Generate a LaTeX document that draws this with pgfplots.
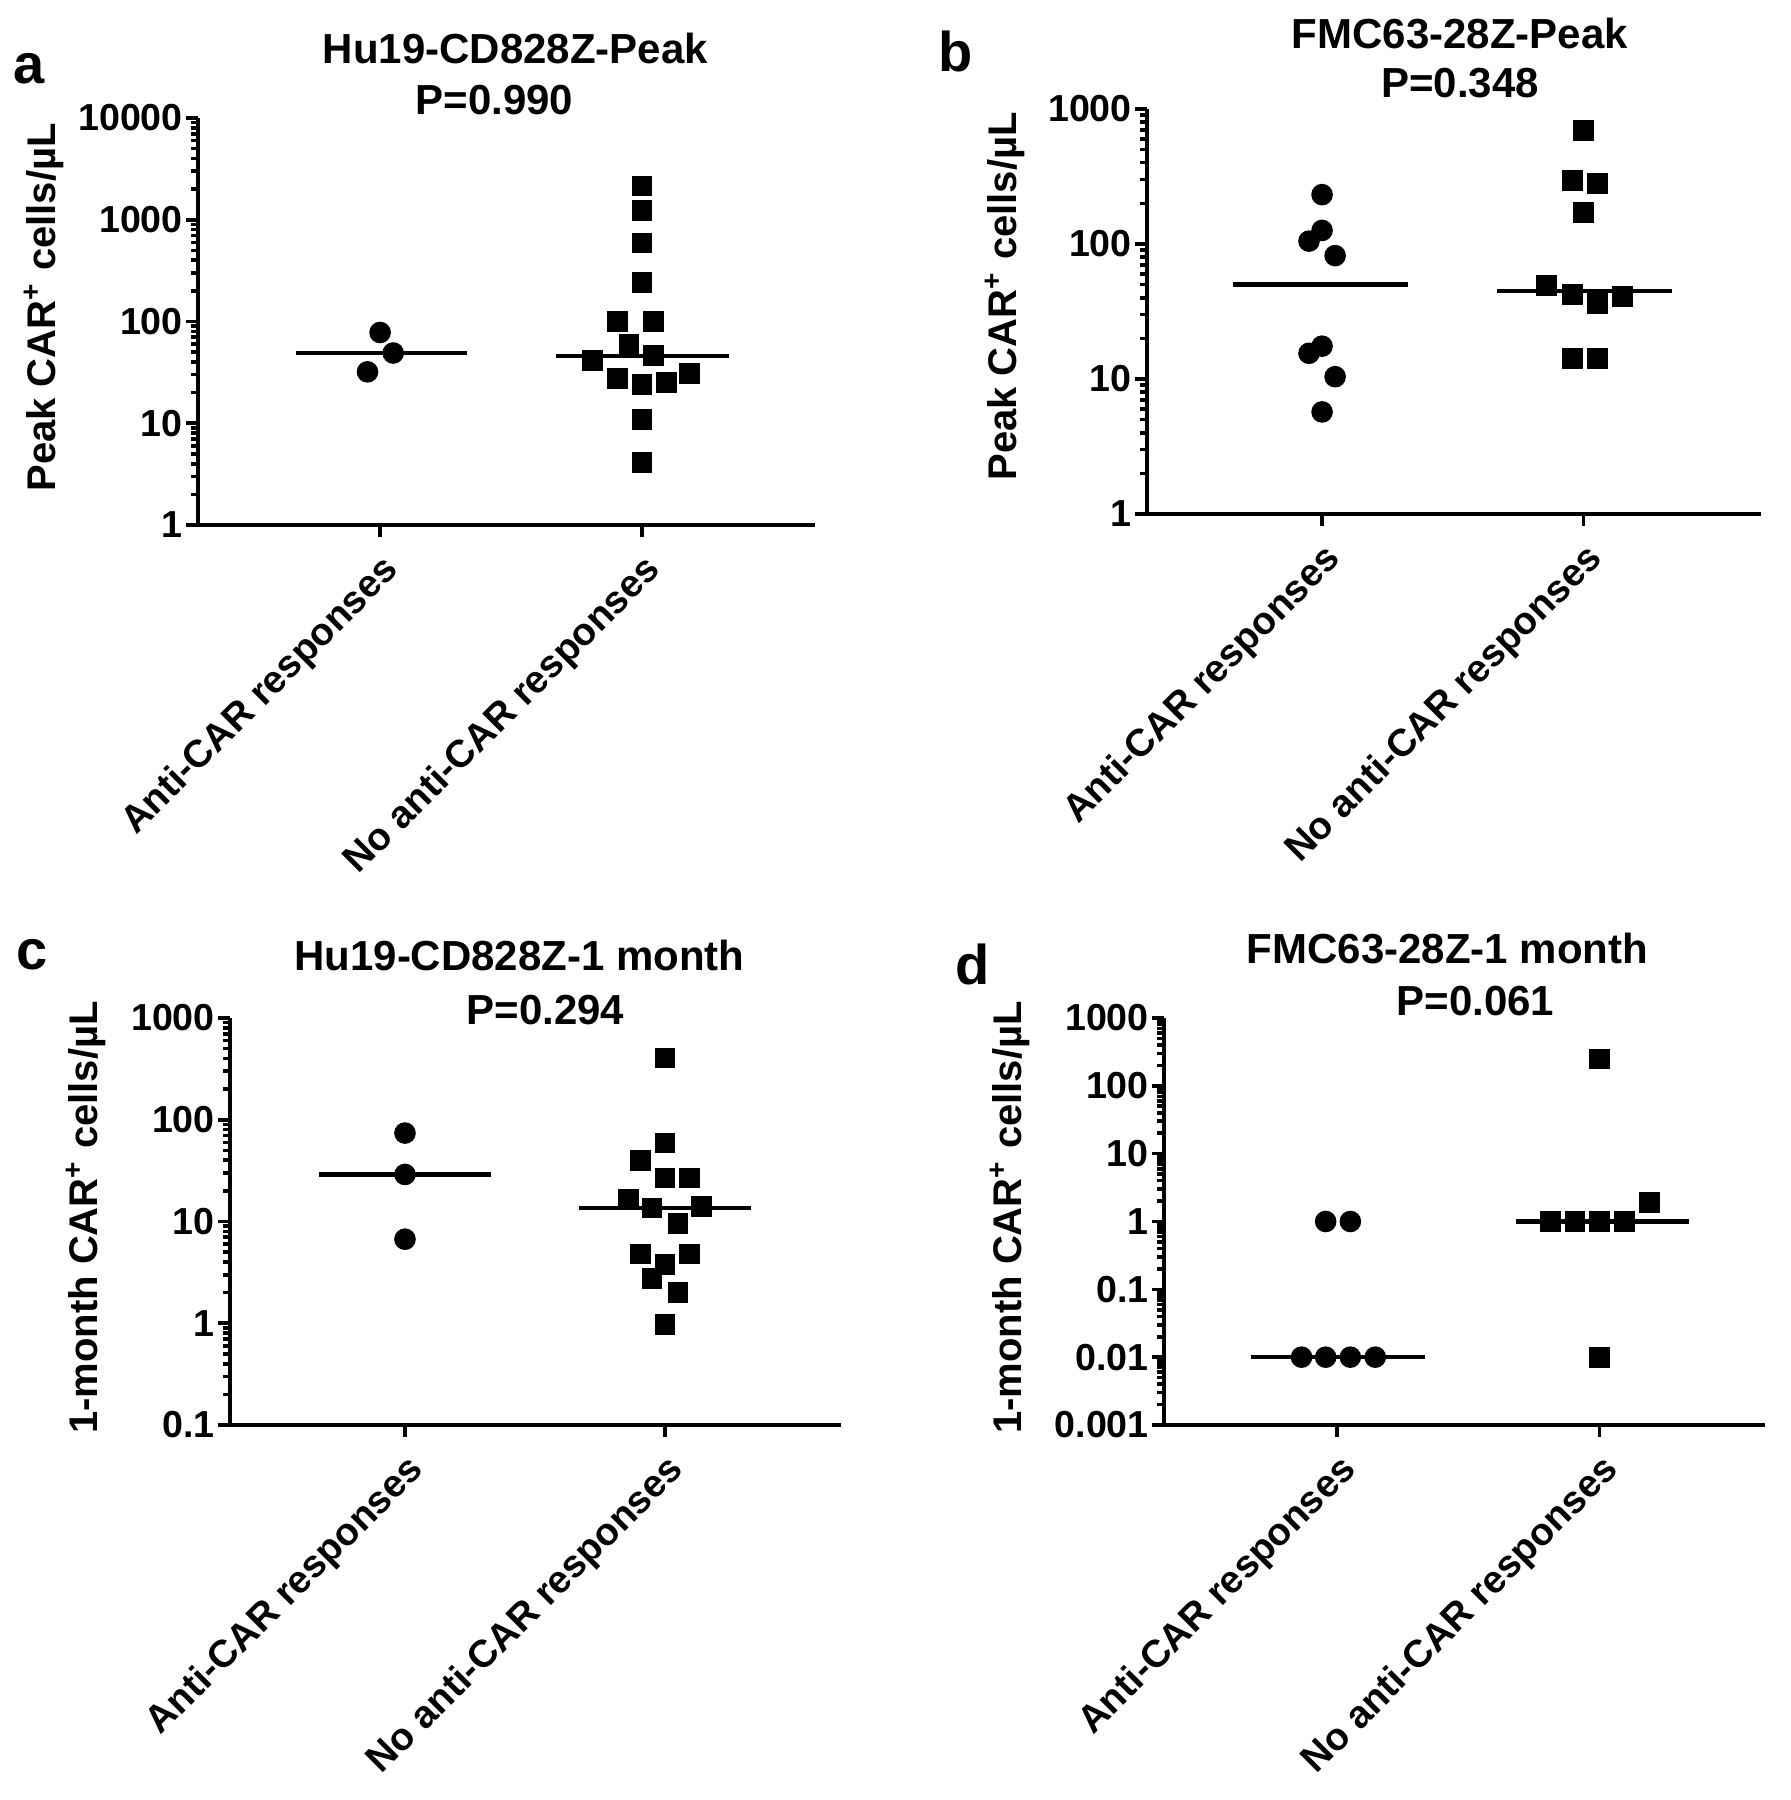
\documentclass[border=0pt]{standalone}
\usepackage{fontspec}
\setmainfont{Liberation Sans}
\usepackage{pgfplots}
\pgfplotsset{compat=1.18}

\pgfplotsset{
 mypanel/.style={
  scale only axis,
  axis x line*=bottom, axis y line*=left,
  axis line style={line width=1.15pt},
  tick style={black, line width=0.9pt},
  major tick length=3pt,
  minor tick length=1.8pt,
  tick align=outside,
  xtick={1,2},
  xticklabels={Anti-CAR responses, No anti-CAR responses},
  xticklabel style={rotate=45, anchor=east, font=\bfseries\fontsize{9.6}{12}\selectfont, inner sep=1pt, xshift=-1.4pt, yshift=-7.2pt},
  yticklabel style={font=\bfseries\fontsize{9.4}{10}\selectfont, inner sep=0.6pt},
  clip=false,
 },
 mycirc/.style={only marks, mark=*, mark size=2.5pt, black},
 mysq/.style={only marks, mark=square*, mark size=2.4pt, black},
 mymed/.style={black, line width=1.1pt, no marks},
}
\newcommand{\ttl}{\bfseries\fontsize{10.5}{12}\selectfont}
\newcommand{\ylab}{\bfseries\fontsize{10}{12}\selectfont}
\newcommand{\plab}{\bfseries\fontsize{14}{16}\selectfont}

\begin{document}
\begin{tikzpicture}
\useasboundingbox (0,0) rectangle (447.5pt,450pt);

% ---------------- panel a
\begin{axis}[ymode=log, mypanel, at={(49.5pt,318.75pt)}, anchor=south west,
  width=154.25pt, height=101.75pt, xmin=0.305, xmax=2.66, ymin=1, ymax=10000,
  ytick={1,10,100,1000,10000}, yticklabels={1,10,100,1000,10000},
  minor ytick={2,3,...,9,20,30,...,90,200,300,...,900,2000,3000,...,9000}]
\addplot[mycirc] coordinates {(1,78) (1.05,49) (0.952,32)};
\addplot[mysq] coordinates {(2,2150) (2,1225) (2,592) (2,243) (1.906,100) (2.044,100) (1.95,59) (1.811,41) (2.044,46) (1.906,27.5) (2,24) (2.092,25) (2.18,31) (2,10.8) (2,4.1)};
\addplot[mymed] coordinates {(0.68,49) (1.33,49)};
\addplot[mymed] coordinates {(1.67,46) (2.33,46)};
\node[font=\ttl, xshift=2.25pt, yshift=17.5pt] at (rel axis cs:0.5,1) {Hu19-CD828Z-Peak};
\node[font=\ttl, xshift=-3pt, yshift=4.5pt] at (rel axis cs:0.5,1) {P=0.990};
\node[font=\ylab, rotate=90, xshift=3.5pt, yshift=38.5pt] at (rel axis cs:0,0.5) {Peak CAR\textsuperscript{+} cells/µL};
\end{axis}

% ---------------- panel b
\begin{axis}[ymode=log, mypanel, at={(286.75pt,321.5pt)}, anchor=south west,
  width=153.5pt, height=101.25pt, xmin=0.33, xmax=2.68, ymin=1, ymax=1000,
  ytick={1,10,100,1000}, yticklabels={1,10,100,1000},
  minor ytick={2,3,...,9,20,30,...,90,200,300,...,900}]
\addplot[mycirc] coordinates {(1,232) (1,126) (0.95,105) (1.05,82) (1,17.5) (0.95,15.5) (1.05,10.4) (1,5.7)};
\addplot[mysq] coordinates {(2,695) (1.96,296) (2.055,279) (2,171) (1.86,49) (1.96,42) (2.055,36) (2.15,41) (1.96,14.1) (2.055,14.1)};
\addplot[mymed] coordinates {(0.66,50) (1.33,50)};
\addplot[mymed] coordinates {(1.67,45) (2.34,45)};
\node[font=\ttl, xshift=1.5pt, yshift=18.75pt] at (rel axis cs:0.5,1) {FMC63-28Z-Peak};
\node[font=\ttl, xshift=1.5pt, yshift=6.5pt] at (rel axis cs:0.5,1) {P=0.348};
\node[font=\ylab, rotate=90, xshift=3.75pt, yshift=35.5pt] at (rel axis cs:0,0.5) {Peak CAR\textsuperscript{+} cells/µL};
\end{axis}

% ---------------- panel c
\begin{axis}[ymode=log, mypanel, at={(57.5pt,93.75pt)}, anchor=south west,
  width=152.75pt, height=101.75pt, xmin=0.327, xmax=2.677, ymin=0.1, ymax=1000,
  ytick={0.1,1,10,100,1000}, yticklabels={0.1,1,10,100,1000},
  minor ytick={0.2,0.3,0.4,0.5,0.6,0.7,0.8,0.9,2,3,...,9,20,30,...,90,200,300,...,900}]
\addplot[mycirc] coordinates {(1,74) (1,29) (1,6.7)};
\addplot[mysq] coordinates {(2,405) (2,59) (1.905,39.5) (2,26.8) (2.093,26.8) (1.86,16.5) (1.95,13.6) (2.14,14) (2.05,9.6) (1.905,4.8) (2.093,4.8) (2,3.8) (1.95,2.75) (2.05,1.99) (2,0.98)};
\addplot[mymed] coordinates {(0.67,29) (1.33,29)};
\addplot[mymed] coordinates {(1.67,13.6) (2.33,13.6)};
\node[font=\ttl, xshift=-4pt, yshift=15.75pt] at (rel axis cs:0.5,1) {Hu19-CD828Z-1 month};
\node[font=\ttl, xshift=2.5pt, yshift=2pt] at (rel axis cs:0.5,1) {P=0.294};
\node[font=\ylab, rotate=90, xshift=1pt, yshift=36pt] at (rel axis cs:0,0.5) {1-month CAR\textsuperscript{+} cells/µL};
\end{axis}

% ---------------- panel d
\begin{axis}[ymode=log, mypanel, at={(291pt,93.75pt)}, anchor=south west,
  width=150.25pt, height=101.75pt, xmin=0.34, xmax=2.63, ymin=0.001, ymax=1000,
  ytick={0.001,0.01,0.1,1,10,100,1000}, yticklabels={0.001,0.01,0.1,1,10,100,1000},
  minor ytick={0.002,0.003,0.004,0.005,0.006,0.007,0.008,0.009,0.02,0.03,0.04,0.05,0.06,0.07,0.08,0.09,0.2,0.3,0.4,0.5,0.6,0.7,0.8,0.9,2,3,...,9,20,30,...,90,200,300,...,900}]
\addplot[mycirc] coordinates {(0.956,1) (1.05,1) (0.864,0.01) (0.956,0.01) (1.05,0.01) (1.145,0.01)};
\addplot[mysq] coordinates {(2,248) (2.19,1.9) (1.814,1) (1.906,1) (2,1) (2.096,1) (2,0.01)};
\addplot[mymed] coordinates {(0.67,0.01) (1.335,0.01)};
\addplot[mymed] coordinates {(1.68,1) (2.34,1)};
\node[font=\ttl, xshift=-4.25pt, yshift=17.25pt] at (rel axis cs:0.5,1) {FMC63-28Z-1 month};
\node[font=\ttl, xshift=2.75pt, yshift=4.25pt] at (rel axis cs:0.5,1) {P=0.061};
\node[font=\ylab, rotate=90, xshift=1pt, yshift=38.5pt] at (rel axis cs:0,0.5) {1-month CAR\textsuperscript{+} cells/µL};
\end{axis}

\node[font=\plab] at (7.25pt,432.75pt) {a};
\node[font=\plab] at (239pt,437pt) {b};
\node[font=\plab] at (8pt,211.25pt) {c};
\node[font=\plab] at (243.25pt,209pt) {d};
\end{tikzpicture}
\end{document}
